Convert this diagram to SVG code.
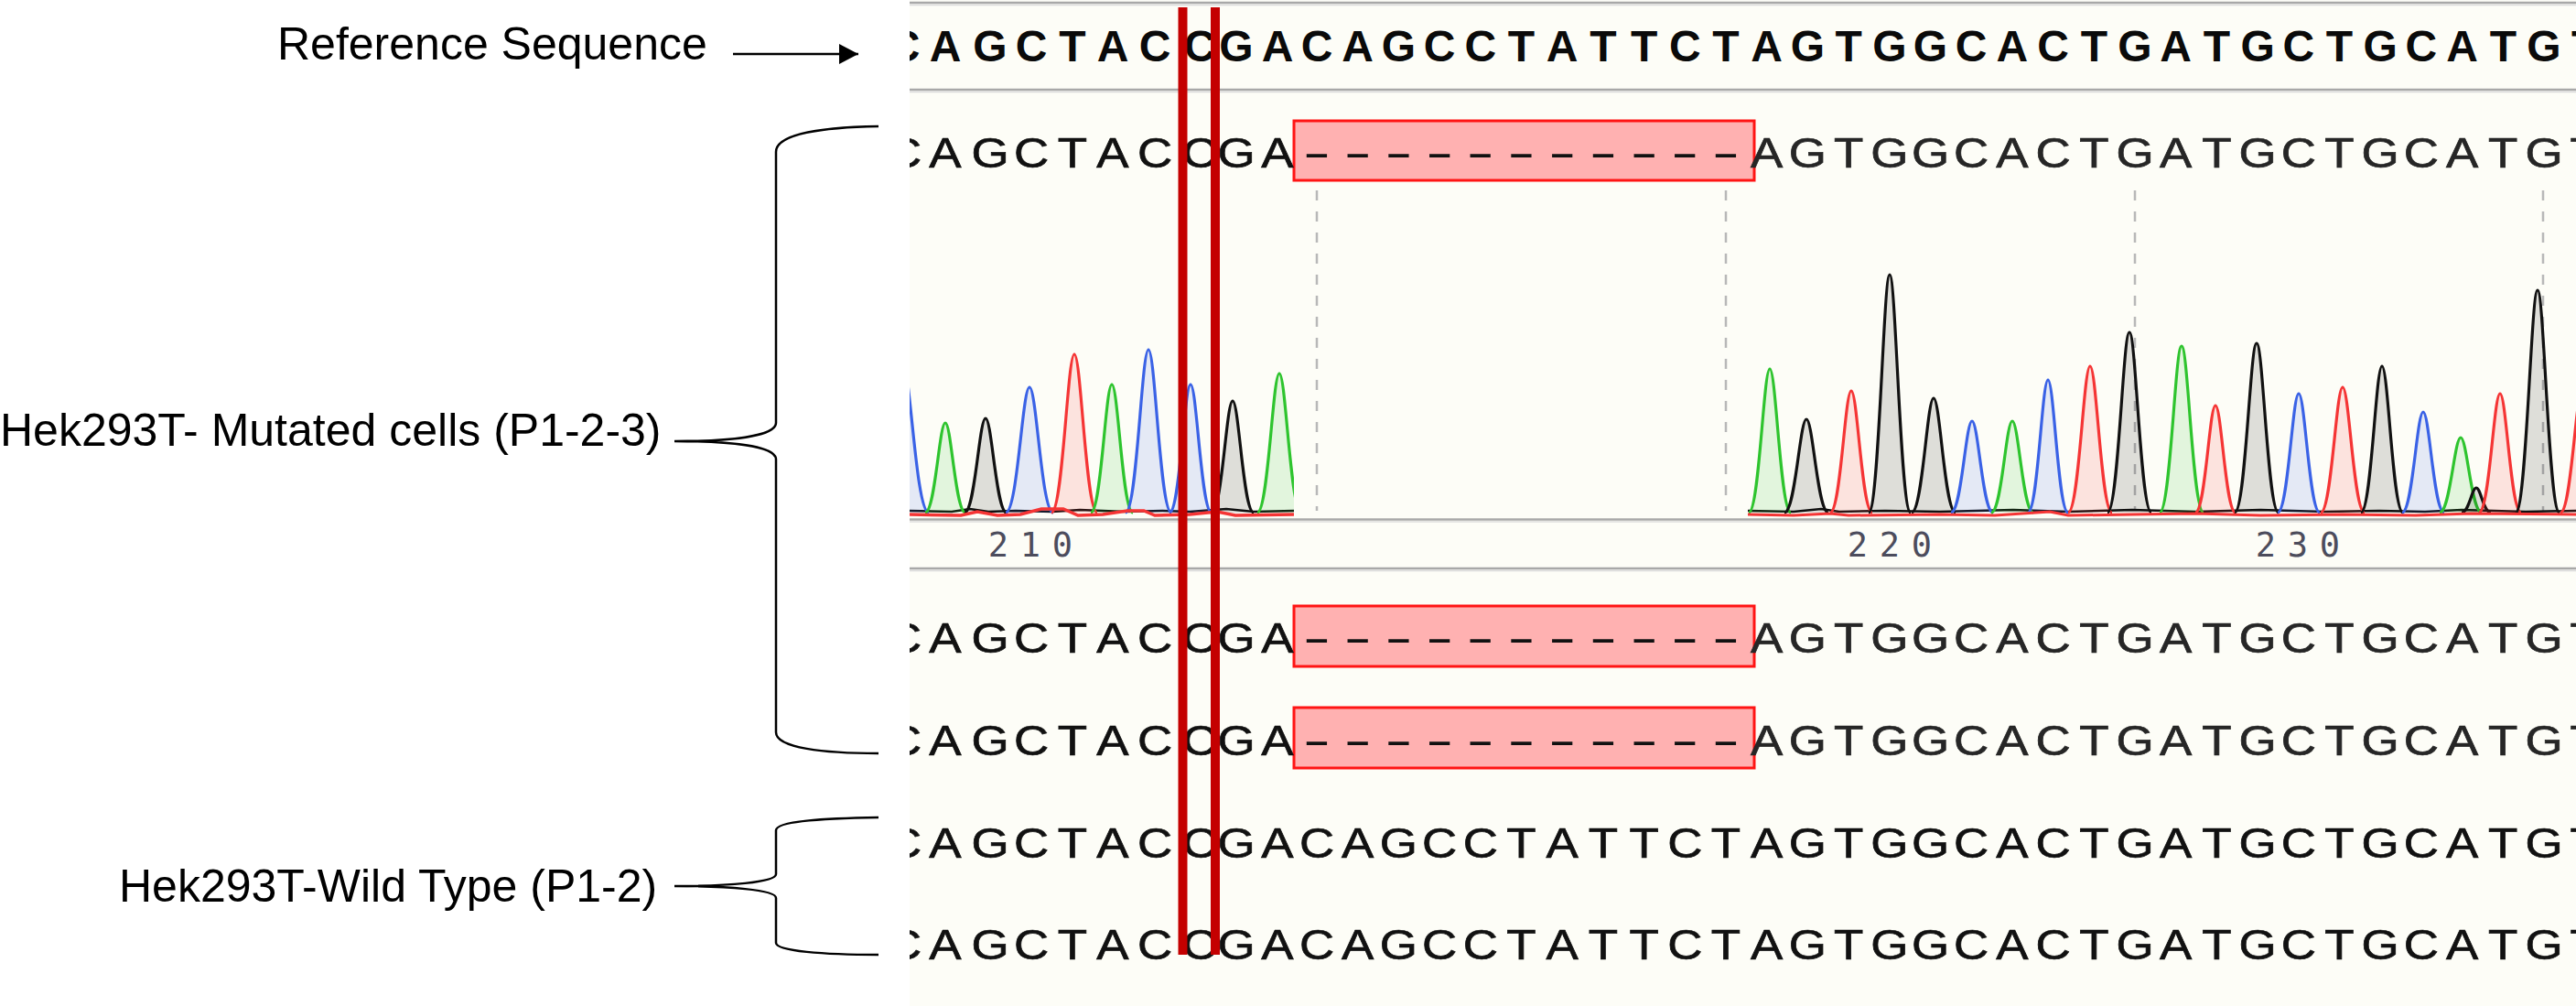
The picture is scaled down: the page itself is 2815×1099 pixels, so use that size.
<svg xmlns="http://www.w3.org/2000/svg" xmlns:xlink="http://www.w3.org/1999/xlink" width="2815" height="1099" viewBox="0 0 2815 1099">
<style>
.lbl{font-family:"Liberation Sans",Arial,sans-serif;font-size:50px;fill:#000}
.seqb{font-family:"Liberation Sans",Arial,sans-serif;font-size:48px;font-weight:bold;fill:#0a0a0a;text-anchor:middle}
.seq{font-family:"Liberation Sans",Arial,sans-serif;font-size:46px;fill:#111;stroke:#111;stroke-width:0.7;text-anchor:middle}
.seq2{font-family:"Liberation Sans",Arial,sans-serif;font-size:46px;fill:#262626;stroke:#262626;stroke-width:0.7;text-anchor:middle}
.dash{font-family:"Liberation Sans",Arial,sans-serif;font-size:48px;fill:#111;text-anchor:middle}
.num{font-family:"DejaVu Sans Mono","Liberation Mono",monospace;font-size:37px;fill:#4c4c5c;text-anchor:middle}
.del{fill:#ffb1b1;stroke:#ff1414;stroke-width:3}
.gl{stroke:#a8a8a8;stroke-width:2.5}
.gs{stroke:#dcdcdc;stroke-width:1.5}
.dl{stroke:#b8b8b8;stroke-width:2.5;stroke-dasharray:11 12}
.mark{stroke:#c40000;stroke-width:10}
.pf{fill:currentColor;fill-opacity:.13;stroke:none}
.ps{fill:none;stroke:currentColor;stroke-width:3.2;vector-effect:non-scaling-stroke}
.pg{color:#2ec42e}.pb{color:#3a62e6}.pr{color:#f53535}.pk{color:#111}
.conn{fill:none;stroke:#000;stroke-width:2.5}
</style>
<defs>
<clipPath id="cp"><rect x="994" y="0" width="1821" height="1099"/></clipPath>
<clipPath id="cl"><rect x="994" y="150" width="420" height="416"/></clipPath>
<clipPath id="cr"><rect x="1910" y="150" width="905" height="416"/></clipPath>
<g id="pk">
<path class="pf" d="M-1,0 C-0.5,0 -0.3,-1 0,-1 C0.3,-1 0.5,0 1,0 Z"/>
<path class="ps" d="M-1,0 C-0.5,0 -0.3,-1 0,-1 C0.3,-1 0.5,0 1,0"/>
</g>
<marker id="ah" markerUnits="userSpaceOnUse" markerWidth="22" markerHeight="24" refX="21" refY="12" orient="auto">
<path d="M0,1 L21,12 L0,23 Z" fill="#000"/>
</marker>
</defs>
<rect x="0" y="0" width="2815" height="1099" fill="#fff"/>

<g id="panel" clip-path="url(#cp)">
<rect x="994" y="0" width="1821" height="1099" fill="#fdfdf7"/>
<line class="gl" x1="994" y1="3" x2="2815" y2="3"/>
<line class="gs" x1="994" y1="5.5" x2="2815" y2="5.5"/>
<line class="gl" x1="994" y1="98" x2="2815" y2="98"/>
<line class="gs" x1="994" y1="100.5" x2="2815" y2="100.5"/>

<g id="reference-sequence">
<text class="seqb" y="67" x="988 1033 1082 1127 1172 1216 1262 1311 1351 1396 1439 1483.7 1528.4 1573.1 1617.8 1662.5 1707.2 1751.9 1796.6 1841.3 1886 1930.7 1975.4 2020.1 2064.8 2109.5 2154.2 2198.9 2243.6 2288.3 2333 2377.7 2422.4 2467.1 2511.8 2556.5 2601.2 2645.9 2690.6 2735.3 2780 2824.7">CAGCTACCGACAGCCTATTCTAGTGGCACTGATGCTGCATGT</text>
</g>

<g id="mutated-1">
<rect class="del" x="1414" y="132" width="503" height="65"/>
<text class="seq" y="183" transform="scale(1.15 1)" x="859.13 898.26 940.87 980 1019.13 1057.39 1097.39 1140 1174.78 1213.91">CAGCTACCGA</text>
<text class="dash" y="183" transform="scale(1.9 1)" x="757.37 780.89 804.42 827.95 851.47 875 898.53 922.05 945.58 969.11 992.63">-----------</text>
<text class="seq2" y="183" transform="scale(1.15 1)" x="1678.87 1717.74 1756.61 1795.48 1834.35 1873.22 1912.09 1950.96 1989.83 2028.7 2067.57 2106.43 2145.3 2184.17 2223.04 2261.91 2300.78 2339.65 2378.52 2417.39 2456.26">AGTGGCACTGATGCTGCATGT</text>
</g>

<g id="chromatogram">
<line class="dl" x1="1439" y1="208" x2="1439" y2="558"/>
<line class="dl" x1="1886" y1="208" x2="1886" y2="558"/>
<line class="dl" x1="2333" y1="208" x2="2333" y2="558"/>
<line class="dl" x1="2779" y1="208" x2="2779" y2="558"/>
<line class="gl" x1="994" y1="567.5" x2="2815" y2="567.5"/>
<line class="gs" x1="994" y1="570" x2="2815" y2="570"/>
<g clip-path="url(#cl)">
<path d="M994,558 L1040,559 1060,556 1080,559 1110,558 1150,559 1180,557 1230,559 1270,558 1300,559 1340,556 1370,559 1414,558" fill="none" stroke="#111" stroke-width="2.5"/>
<use xlink:href="#pk" class="pb" transform="translate(986 560) scale(29 165)"/>
<use xlink:href="#pk" class="pg" transform="translate(1033 560) scale(22 98)"/>
<use xlink:href="#pk" class="pk" transform="translate(1077 560) scale(23 103)"/>
<use xlink:href="#pk" class="pb" transform="translate(1125 560) scale(26 137)"/>
<use xlink:href="#pk" class="pr" transform="translate(1174 560) scale(25 173)"/>
<use xlink:href="#pk" class="pg" transform="translate(1215 560) scale(23 140)"/>
<use xlink:href="#pk" class="pb" transform="translate(1255 560) scale(25 178)"/>
<use xlink:href="#pk" class="pb" transform="translate(1301 560) scale(23 140)"/>
<use xlink:href="#pk" class="pk" transform="translate(1347 560) scale(23 122)"/>
<use xlink:href="#pk" class="pg" transform="translate(1398 560) scale(24 152)"/>
<path d="M994,562 L1050,563 1068,559 1090,563 1115,562 1138,556 1162,556 1178,563 1205,562 1232,558 1250,558 1262,563 1300,562 1330,559 1350,563 1414,562" fill="none" stroke="#f53535" stroke-width="3.5"/>
</g>
<g clip-path="url(#cr)">
<path d="M1910,558 L1960,559 1990,556 2010,559 2060,558 2120,559 2200,557 2260,559 2330,557 2400,559 2470,557 2540,559 2600,558 2650,559 2690,557 2760,559 2815,558" fill="none" stroke="#111" stroke-width="2.5"/>
<use xlink:href="#pk" class="pg" transform="translate(1934 560) scale(23 157)"/>
<use xlink:href="#pk" class="pk" transform="translate(1974 560) scale(24 102)"/>
<use xlink:href="#pk" class="pr" transform="translate(2023 560) scale(23 133)"/>
<use xlink:href="#pk" class="pk" transform="translate(2065 560) scale(23 260)"/>
<use xlink:href="#pk" class="pk" transform="translate(2113 560) scale(24 125)"/>
<use xlink:href="#pk" class="pb" transform="translate(2155 560) scale(23 100)"/>
<use xlink:href="#pk" class="pg" transform="translate(2199 560) scale(23 100)"/>
<use xlink:href="#pk" class="pb" transform="translate(2238 560) scale(22 145)"/>
<use xlink:href="#pk" class="pr" transform="translate(2284 560) scale(24 160)"/>
<use xlink:href="#pk" class="pk" transform="translate(2327 560) scale(24 197)"/>
<use xlink:href="#pk" class="pg" transform="translate(2384 560) scale(24 182)"/>
<use xlink:href="#pk" class="pr" transform="translate(2421 560) scale(22 117)"/>
<use xlink:href="#pk" class="pk" transform="translate(2466 560) scale(24 185)"/>
<use xlink:href="#pk" class="pb" transform="translate(2512 560) scale(23 130)"/>
<use xlink:href="#pk" class="pr" transform="translate(2560 560) scale(24 137)"/>
<use xlink:href="#pk" class="pk" transform="translate(2603 560) scale(23 160)"/>
<use xlink:href="#pk" class="pb" transform="translate(2648 560) scale(23 110)"/>
<use xlink:href="#pk" class="pg" transform="translate(2689 560) scale(23 82)"/>
<use xlink:href="#pk" class="pk" transform="translate(2706 560) scale(16 27)"/>
<use xlink:href="#pk" class="pr" transform="translate(2732 560) scale(23 130)"/>
<use xlink:href="#pk" class="pk" transform="translate(2773 560) scale(24 243)"/>
<use xlink:href="#pk" class="pr" transform="translate(2822 560) scale(24 135)"/>
<path d="M1910,562 L1960,563 2000,561 2020,563 2120,562 2180,563 2240,559 2260,563 2330,562 2400,561 2470,563 2560,562 2640,563 2700,561 2815,562" fill="none" stroke="#f53535" stroke-width="3"/>
</g>
<text class="num" y="608" x="1091 1126 1161">210</text>
<text class="num" y="608" x="2030 2065 2100">220</text>
<text class="num" y="608" x="2476 2511 2546">230</text>
<line class="gl" x1="994" y1="621" x2="2815" y2="621"/>
<line class="gs" x1="994" y1="623.5" x2="2815" y2="623.5"/>
</g>

<g id="mutated-2">
<rect class="del" x="1414" y="662" width="503" height="66"/>
<text class="seq" y="713" transform="scale(1.15 1)" x="859.13 898.26 940.87 980 1019.13 1057.39 1097.39 1140 1174.78 1213.91">CAGCTACCGA</text>
<text class="dash" y="713" transform="scale(1.9 1)" x="757.37 780.89 804.42 827.95 851.47 875 898.53 922.05 945.58 969.11 992.63">-----------</text>
<text class="seq2" y="713" transform="scale(1.15 1)" x="1678.87 1717.74 1756.61 1795.48 1834.35 1873.22 1912.09 1950.96 1989.83 2028.7 2067.57 2106.43 2145.3 2184.17 2223.04 2261.91 2300.78 2339.65 2378.52 2417.39 2456.26">AGTGGCACTGATGCTGCATGT</text>
</g>

<g id="mutated-3">
<rect class="del" x="1414" y="773" width="503" height="66"/>
<text class="seq" y="825" transform="scale(1.15 1)" x="859.13 898.26 940.87 980 1019.13 1057.39 1097.39 1140 1174.78 1213.91">CAGCTACCGA</text>
<text class="dash" y="825" transform="scale(1.9 1)" x="757.37 780.89 804.42 827.95 851.47 875 898.53 922.05 945.58 969.11 992.63">-----------</text>
<text class="seq2" y="825" transform="scale(1.15 1)" x="1678.87 1717.74 1756.61 1795.48 1834.35 1873.22 1912.09 1950.96 1989.83 2028.7 2067.57 2106.43 2145.3 2184.17 2223.04 2261.91 2300.78 2339.65 2378.52 2417.39 2456.26">AGTGGCACTGATGCTGCATGT</text>
</g>

<g id="wildtype-1">
<text class="seq" y="937" transform="scale(1.15 1)" x="859.13 898.26 940.87 980 1019.13 1057.39 1097.39 1140 1174.78 1213.91 1251.3 1290.17 1329.04 1367.91 1406.78 1445.65 1484.52 1523.39 1562.26 1601.13 1640 1678.87 1717.74 1756.61 1795.48 1834.35 1873.22 1912.09 1950.96 1989.83 2028.7 2067.57 2106.43 2145.3 2184.17 2223.04 2261.91 2300.78 2339.65 2378.52 2417.39 2456.26">CAGCTACCGACAGCCTATTCTAGTGGCACTGATGCTGCATGT</text>
</g>
<g id="wildtype-2">
<text class="seq" y="1048" transform="scale(1.15 1)" x="859.13 898.26 940.87 980 1019.13 1057.39 1097.39 1140 1174.78 1213.91 1251.3 1290.17 1329.04 1367.91 1406.78 1445.65 1484.52 1523.39 1562.26 1601.13 1640 1678.87 1717.74 1756.61 1795.48 1834.35 1873.22 1912.09 1950.96 1989.83 2028.7 2067.57 2106.43 2145.3 2184.17 2223.04 2261.91 2300.78 2339.65 2378.52 2417.39 2456.26">CAGCTACCGACAGCCTATTCTAGTGGCACTGATGCTGCATGT</text>
</g>

<g id="mutation-site">
<line class="mark" x1="1292.5" y1="8" x2="1292.5" y2="1043"/>
<line class="mark" x1="1328" y1="8" x2="1328" y2="1043"/>
</g>
</g>

<g id="label-reference">
<text class="lbl" x="303" y="65">Reference Sequence</text>
</g>
<g id="label-mutated">
<text class="lbl" x="0" y="487">Hek293T- Mutated cells (P1-2-3)</text>
</g>
<g id="label-wildtype">
<text class="lbl" x="130" y="985">Hek293T-Wild Type (P1-2)</text>
</g>

<g id="connectors">
<line x1="801" y1="59" x2="938" y2="59" stroke="#000" stroke-width="2.5" marker-end="url(#ah)"/>
<path class="conn" d="M960,138 C900,139 848,146 848,166 L848,462 C848,477 795,482 737,482 C795,482 848,487 848,502 L848,800 C848,817 900,823 960,823"/>
<path class="conn" d="M960,893 C900,894 848,897 848,907 L848,955 C848,964 795,968 737,968 C795,968 848,972 848,981 L848,1030 C848,1039 900,1043 960,1043"/>
</g>
</svg>
